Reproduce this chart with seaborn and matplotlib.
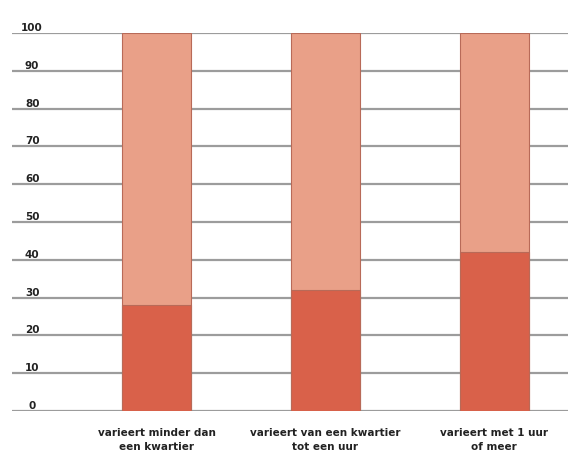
import matplotlib
matplotlib.use("Agg")
import matplotlib.pyplot as plt
import seaborn as sns
import pandas as pd

categories = ["varieert minder dan\neen kwartier",
              "varieert van een kwartier\ntot een uur",
              "varieert met 1 uur\nof meer"]
dark_values = [28, 32, 42]
total_values = [100, 100, 100]
ytick_values = [0, 10, 20, 30, 40, 50, 60, 70, 80, 90, 100]

df = pd.DataFrame({"cat": categories, "dark": dark_values, "total": total_values})

sns.set_theme(style="white")
plt.rcParams["font.family"] = ["DejaVu Sans"]

fig = plt.figure(figsize=(5.72, 4.53), dpi=100)
ax = fig.add_axes([12/572, 42/453, 556/572, 378/453])

edge = "#b86a58"
sns.barplot(data=df, x="cat", y="total", color="#e9a088", width=0.41,
            edgecolor=edge, linewidth=0.8, ax=ax, saturation=1, zorder=3)
sns.barplot(data=df, x="cat", y="dark", color="#d9614a", width=0.41,
            edgecolor=edge, linewidth=0.8, ax=ax, saturation=1, zorder=4)

ax.set_ylim(0, 100)
ax.set_xlim(-0.858, 2.438)
ax.set_yticks(ytick_values)
ax.set_yticklabels([str(v) for v in ytick_values])
ax.yaxis.grid(True, color="#9c9c9c", linewidth=1.6, zorder=0)
ax.set_axisbelow(True)
for s in ax.spines.values():
    s.set_visible(False)

ax.tick_params(axis="y", length=0, pad=-14.5, labelsize=7.5)
ax.tick_params(axis="x", length=0, pad=12.5, labelsize=7.5)
for lbl in ax.get_yticklabels():
    lbl.set_fontweight("bold")
    lbl.set_horizontalalignment("center")
    lbl.set_verticalalignment("bottom")
    lbl.set_color("#222222")
for lbl in ax.get_xticklabels():
    lbl.set_fontweight("bold")
    lbl.set_linespacing(1.4)
    lbl.set_color("#222222")
    lbl.set_verticalalignment("top")

ax.set_xlabel("")
ax.set_ylabel("")

fig.savefig("out.png", dpi=100)
